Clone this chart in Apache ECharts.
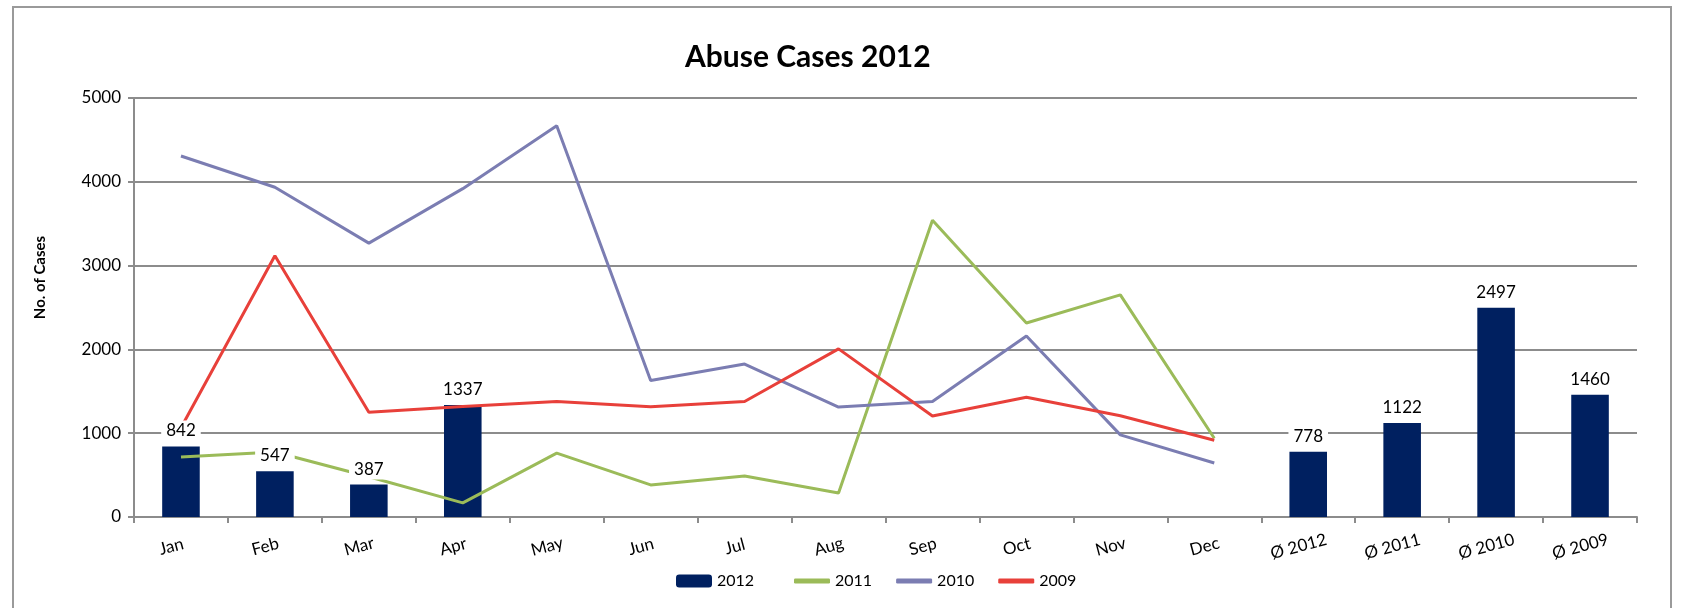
<!DOCTYPE html>
<html>
<head>
<meta charset="utf-8">
<script src="https://cdn.jsdelivr.net/npm/echarts@6/dist/echarts.min.js"></script>
<style>
  html, body { margin: 0; padding: 0; background: #fff; }
  #a { width: 1683px; height: 608px; }
</style>
</head>
<body>
<div id="a"></div>
<script>
// categories: 12 months + the four yearly averages
var categories = ['Jan', 'Feb', 'Mar', 'Apr', 'May', 'Jun', 'Jul', 'Aug', 'Sep', 'Oct', 'Nov', 'Dec',
                  'Ø 2012', 'Ø 2011', 'Ø 2010', 'Ø 2009'];
// 2012 bars (only Jan-Apr reported, then averages)
var cases2012 = [842, 547, 387, 1337, null, null, null, null, null, null, null, null, 778, 1122, 2497, 1460];
var cases2011 = [715, 775, 480, 168, 762, 383, 490, 286, 3540, 2315, 2650, 940];
var cases2010 = [4308, 3935, 3268, 3918, 4670, 1628, 1825, 1312, 1378, 2160, 980, 645];
var cases2009 = [1065, 3118, 1250, 1320, 1378, 1317, 1378, 2006, 1205, 1428, 1208, 915];
var yTicks = [0, 1000, 2000, 3000, 4000, 5000];

var font = 'Lato, "Open Sans", sans-serif';

var myechart = echarts.init(document.getElementById('a'));
var option = {
  backgroundColor: '#fff',
  textStyle: { fontFamily: font },
  title: {
    text: 'Abuse Cases 2012',
    left: 680,
    top: 37,
    textStyle: { fontSize: 30, fontWeight: 'bold', color: '#000', fontFamily: font }
  },
  graphic: [{
    type: 'rect',
    shape: { x: 13, y: 7, width: 1658, height: 640 },
    style: { fill: null, stroke: '#9a9a9a', lineWidth: 2 },
    z: -1
  }],
  // bar swatch and line swatches need different heights -> two legends
  legend: [{
    top: 568,
    left: 671,
    itemWidth: 36,
    itemHeight: 13,
    data: ['2012'],
    textStyle: { fontSize: 16, color: '#000', fontFamily: font }
  }, {
    top: 568,
    left: 789,
    itemWidth: 36,
    itemHeight: 5,
    itemGap: 24,
    icon: 'roundRect',
    data: ['2011', '2010', '2009'],
    textStyle: { fontSize: 16, color: '#000', fontFamily: font }
  }],
  grid: { left: 134, right: 46, top: 98, bottom: 91 },
  xAxis: {
    type: 'category',
    data: categories,
    boundaryGap: true,
    axisLine: { lineStyle: { color: '#8c8c8c', width: 2 } },
    axisTick: { show: true, length: 6, lineStyle: { color: '#8c8c8c', width: 2 } },
    axisLabel: {
      rotate: 15, margin: 27, fontSize: 17, color: '#000', fontFamily: font,
      align: 'center', verticalAlign: 'middle', padding: [0, 20, 0, 0]
    }
  },
  yAxis: {
    type: 'value',
    min: yTicks[0],
    max: yTicks[yTicks.length - 1],
    interval: 1000,
    name: 'No. of Cases',
    nameLocation: 'middle',
    nameGap: 86,
    nameTextStyle: { fontSize: 15, fontWeight: 'bold', color: '#000', fontFamily: font, padding: [0, 0, 0, 60] },
    axisLine: { show: true, lineStyle: { color: '#8c8c8c', width: 2 } },
    axisTick: { show: true, length: 6, lineStyle: { color: '#8c8c8c', width: 2 } },
    axisLabel: { fontSize: 17, color: '#000', margin: 13, fontFamily: font, formatter: function (v) { return String(v); } },
    splitLine: { lineStyle: { color: '#8c8c8c', width: 2 } }
  },
  series: [
    {
      name: '2012', type: 'bar', data: cases2012, barWidth: '40%', z: 1,
      itemStyle: { color: '#002060' }
    },
    {
      name: '2011', type: 'line', data: cases2011, symbol: 'none', z: 2,
      lineStyle: { color: '#9bbb59', width: 3 }, itemStyle: { color: '#9bbb59' }
    },
    {
      name: '2010', type: 'line', data: cases2010, symbol: 'none', z: 2,
      lineStyle: { color: '#7b7db2', width: 3 }, itemStyle: { color: '#7b7db2' }
    },
    {
      name: '2009', type: 'line', data: cases2009, symbol: 'none', z: 2,
      lineStyle: { color: '#e8403a', width: 3 }, itemStyle: { color: '#e8403a' }
    },
    {
      // invisible copy of the 2012 bars, only to put the value labels above the lines
      name: 'labels', type: 'bar', data: cases2012, barWidth: '40%', barGap: '-100%', z: 5,
      itemStyle: { color: 'rgba(0,0,0,0)' },
      label: {
        show: true, position: 'top', distance: 5, fontSize: 17, color: '#000',
        backgroundColor: '#fff', padding: [2, 5], fontFamily: font
      },
      silent: true
    }
  ]
};
myechart.setOption(option);
</script>
</body>
</html>
